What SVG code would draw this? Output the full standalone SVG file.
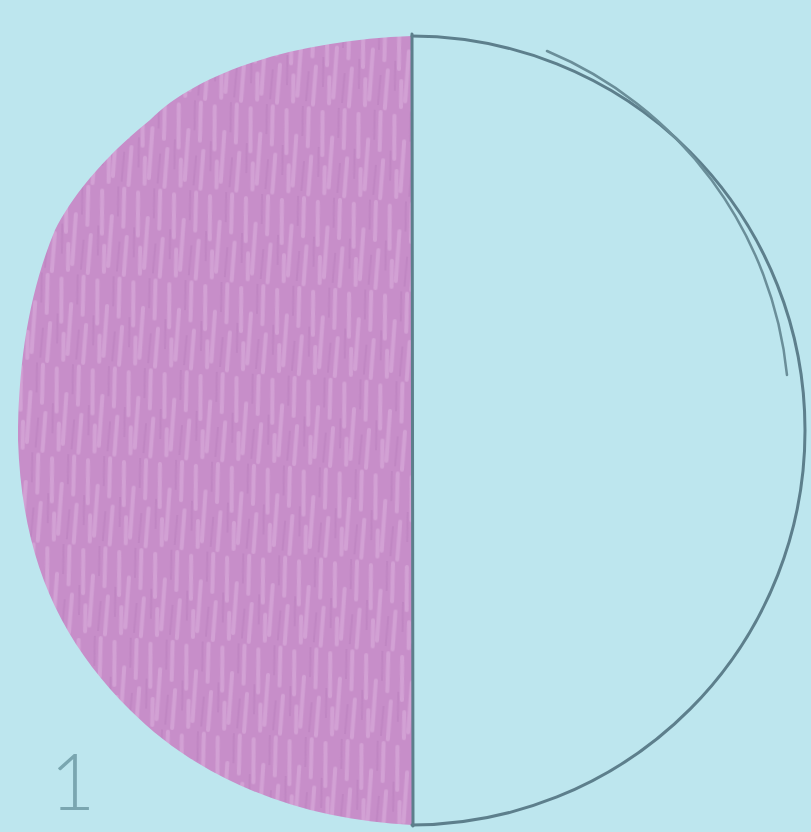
<svg xmlns="http://www.w3.org/2000/svg" width="811" height="832" viewBox="0 0 811 832">
<style>
.ink{fill:none;stroke:#5d7f8c;stroke-width:3;stroke-linecap:round}
.thin{fill:none;stroke:#6a8e99;stroke-width:2.5;stroke-linecap:round}
.lbl{font-family:"Lato","Liberation Sans",sans-serif;font-size:78px;fill:#7aa6b0;font-weight:300}
</style>
<defs>
<pattern id="hatch" width="36" height="90" patternUnits="userSpaceOnUse" patternTransform="rotate(3)">
<rect width="36" height="90" fill="#c78ec9"/>
<path d="M4 5 L6 48 M15 30 L14 80 M26 2 L27 40 M31 50 L30 88 M9 60 L10 86" stroke="#dbb0dd" stroke-width="4" opacity="0.55" stroke-linecap="round"/>
<path d="M20 0 L21 30 M2 40 L3 70 M24 55 L23 85" stroke="#b57ab8" stroke-width="2" opacity="0.4"/>
</pattern>
</defs>
<rect width="811" height="832" fill="#bde6ee"/>
<g id="shaded-half">
<path d="M412 36 C300 40 200 70 150 120 C100 160 70 200 55 230 C30 290 18 360 18 440 C22 560 60 640 130 710 C200 780 300 820 412 825 Z" fill="url(#hatch)"/>
</g>
<g id="circle">
<path class="ink" d="M412 36 A394 394 0 0 1 805 430 A394 394 0 0 1 412 825"/>
<path class="thin" d="M540 56 A394 394 0 0 1 780 380" transform="translate(7,-5)"/>
<line class="ink" x1="412" y1="34" x2="413" y2="826" stroke-width="3.5"/>
</g>
<text class="lbl" x="50" y="810">1</text>
</svg>
